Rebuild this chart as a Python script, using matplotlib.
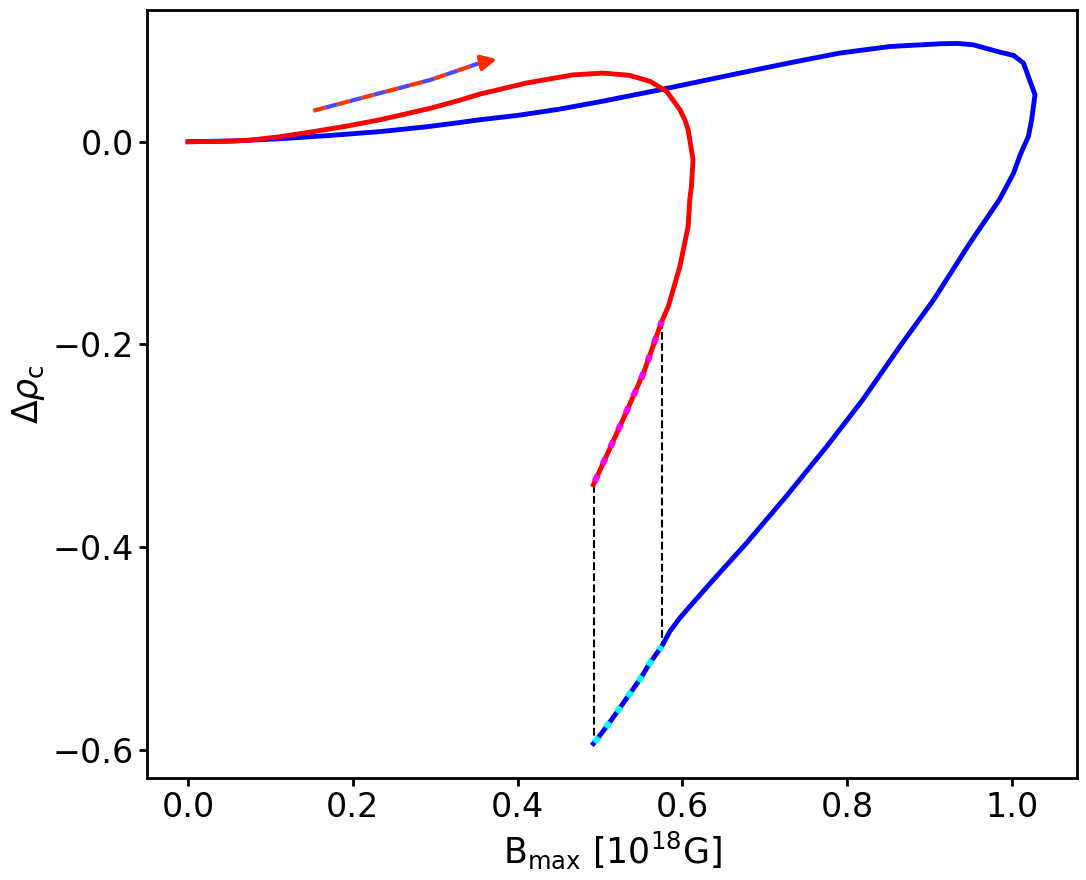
import matplotlib
matplotlib.use("Agg")
import matplotlib.pyplot as plt
import numpy as np

# Red curve (B_max, delta rho_c)
red_x = [0.0, 0.040, 0.075, 0.112, 0.152, 0.193, 0.233, 0.294, 0.330, 0.354, 0.411, 0.467, 0.504, 0.536, 0.561,
         0.581, 0.597, 0.603, 0.607, 0.613, 0.611, 0.609, 0.607, 0.597, 0.583, 0.575, 0.553, 0.528, 0.492]
red_y = [0.0, 0.0003, 0.0015, 0.005, 0.010, 0.0155, 0.0217, 0.033, 0.041, 0.047, 0.058, 0.066, 0.0678, 0.0655, 0.0595,
         0.0497, 0.0316, 0.0217, 0.0118, -0.0178, -0.044, -0.057, -0.0836, -0.123, -0.1625, -0.1773, -0.228, -0.274, -0.3385]

# Blue curve
blue_x = [0.0, 0.056, 0.112, 0.172, 0.233, 0.290, 0.330, 0.354, 0.400, 0.451, 0.500, 0.573, 0.670, 0.731, 0.791,
          0.852, 0.913, 0.935, 0.953, 0.985, 1.002, 1.014, 1.028, 1.024, 1.020, 1.010, 1.002, 0.985, 0.949,
          0.905, 0.864, 0.819, 0.775, 0.726, 0.678, 0.638, 0.613, 0.597, 0.585, 0.575, 0.561, 0.549, 0.536,
          0.524, 0.511, 0.498, 0.492]
blue_y = [0.0, 0.0008, 0.003, 0.0062, 0.010, 0.0148, 0.019, 0.0217, 0.026, 0.0322, 0.0395, 0.0513, 0.0678, 0.078,
          0.0875, 0.094, 0.0967, 0.0970, 0.0957, 0.0885, 0.0852, 0.0777, 0.0464, 0.0217, 0.0052, -0.013, -0.031,
          -0.057, -0.100, -0.156, -0.202, -0.2546, -0.301, -0.350, -0.396, -0.432, -0.455, -0.470, -0.483,
          -0.498, -0.514, -0.530, -0.545, -0.559, -0.574, -0.588, -0.594]

# Dotted overlays
mag_x = [0.575, 0.553, 0.528, 0.492]
mag_y = [-0.1773, -0.228, -0.274, -0.3385]
cyan_x = [0.575, 0.561, 0.549, 0.536, 0.524, 0.511, 0.498, 0.492]
cyan_y = [-0.498, -0.514, -0.530, -0.545, -0.559, -0.574, -0.588, -0.594]

# Vertical dashed connectors
vline_x = [0.493, 0.575]
vline_ytop = [-0.3385, -0.1773]
vline_ybot = [-0.594, -0.498]

# Direction arrow
arr_x = [0.152, 0.233, 0.294, 0.354, 0.372]
arr_y = [0.0306, 0.048, 0.061, 0.0777, 0.081]

fig = plt.figure(figsize=(10.86, 8.8), dpi=100)
ax = fig.add_axes([0.1354, 0.1159, 0.8563, 0.8727])

ax.plot(blue_x, blue_y, color='blue', lw=3.5, zorder=3)
ax.plot(red_x, red_y, color='red', lw=3.5, zorder=3)
ax.plot(mag_x, mag_y, color='magenta', lw=4.5, ls=(0.3, (1.1, 1.9)), zorder=4)
ax.plot(cyan_x, cyan_y, color='cyan', lw=4.5, ls=(0.3, (1.1, 1.9)), zorder=4)
for xv, yt, yb in zip(vline_x, vline_ytop, vline_ybot):
    ax.plot([xv, xv], [yt, yb], color='black', lw=1.5, ls='--', zorder=2)

ax.plot(arr_x[:-1], arr_y[:-1], color='#ff3300', gapcolor='#4a4aff', lw=3,
        ls=(0, (3, 3)), zorder=3)
ax.annotate('', xy=(0.375, 0.0816), xytext=(arr_x[-2], arr_y[-2]),
            arrowprops=dict(arrowstyle='-|>,head_length=0.9,head_width=0.45',
                            color='#ff2a00', lw=3, shrinkA=0, shrinkB=0))

ax.set_xlim(-0.0498, 1.079)
ax.set_ylim(-0.628, 0.130)
ax.set_xticks([0.0, 0.2, 0.4, 0.6, 0.8, 1.0])
ax.set_yticks([-0.6, -0.4, -0.2, 0.0])
ax.tick_params(labelsize=24, width=2, length=6)
for s in ax.spines.values():
    s.set_linewidth(2)
ax.set_xlabel(r'$\rm B_{max}$ [$10^{18}$G]', fontsize=25)
ax.set_ylabel(r'$\Delta\rho_{\rm c}$', fontsize=25)

fig.savefig('out.png', dpi=100)
